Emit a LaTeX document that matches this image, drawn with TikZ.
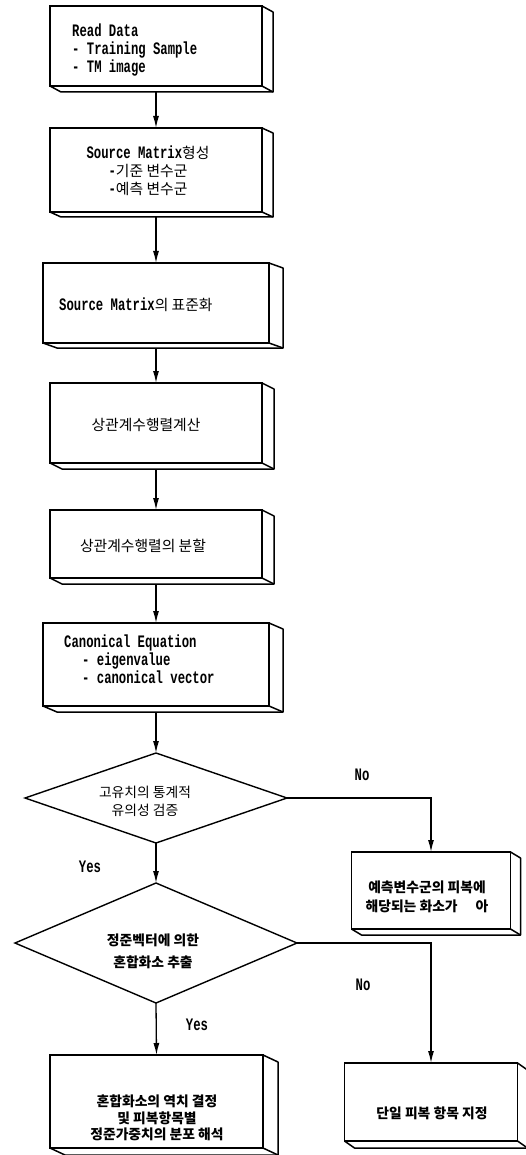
\documentclass[tikz,border=0pt]{standalone}
\usepackage{fontspec}
\setmainfont{Liberation Mono}[FakeStretch=0.7]
\newfontfamily\kr{Noto Sans CJK KR}
\usetikzlibrary{shapes.geometric,arrows.meta,calc}
\newcommand\K[1]{{\kr\mdseries\fontsize{14.8}{18}\selectfont #1}}
\newcommand\slabside[3]{%
  \draw[slabline] (#1.north east) -- ++(#2,#3) -- ($(#1.south east)+(#2,#3)$) -- ($(#1.south west)+(#2,#3)$) -- (#1.south west);
  \draw[slabline] (#1.south east) -- ++(#2,#3);
}
\tikzset{
  slab/.style={draw, line width=1.6pt, inner sep=0pt, outer sep=0pt},
  slabline/.style={line width=1.5pt, line join=round},
  dia/.style={draw, diamond, line width=1.4pt, inner sep=0pt, outer sep=0pt},
  conn/.style={line width=1.3pt, -{Latex[length=12pt,width=6pt]}},
  mono/.style={inner sep=0pt, font=\bfseries\fontsize{17.5}{18}\selectfont},
  kor/.style={inner sep=0pt, align=center, font=\kr\fontsize{14.8}{18}\selectfont},
  korb/.style 2 args={inner sep=0pt, align=center, font=\kr\bfseries\fontsize{#1}{#2}\selectfont},
  lbl/.style={inner sep=0pt, font=\bfseries\fontsize{17.5}{18}\selectfont},
}
\begin{document}
\begin{tikzpicture}[x=1pt,y=-1pt]
\useasboundingbox (0,0) rectangle (526,1155);

% boxes
\node[slab, minimum width=212pt, minimum height=80pt] (b1) at (156,46) {};
\node[slab, minimum width=212pt, minimum height=84pt] (b2) at (156,170) {};
\node[slab, minimum width=226pt, minimum height=80pt] (b3) at (156,303) {};
\node[slab, minimum width=212pt, minimum height=80pt] (b4) at (156,423) {};
\node[slab, minimum width=212pt, minimum height=68pt] (b5) at (156,544) {};
\node[slab, minimum width=226pt, minimum height=83pt] (b6) at (156,664.5) {};
\node[dia, minimum width=262pt, minimum height=90pt] (d1) at (156,798) {};
\node[slab, minimum width=159pt, minimum height=77pt] (b7) at (431,890.5) {};
\node[dia, minimum width=282pt, minimum height=120pt] (d2) at (156,943) {};
\node[slab, minimum width=213pt, minimum height=93pt] (b8) at (156.5,1101.5) {};
\node[slab, minimum width=173pt, minimum height=78pt] (b9) at (431,1102) {};

\slabside{b1}{11}{6}
\slabside{b2}{11}{5}
\slabside{b3}{14}{5}
\slabside{b4}{12}{6}
\slabside{b5}{12}{6}
\slabside{b6}{14}{6}
\slabside{b7}{10}{6}
\slabside{b8}{15}{7}
\slabside{b9}{10}{7}

% texts
\node[mono, anchor=west, align=left] (t1) at (72,50) {Read Data\\- Training Sample\\- TM image};
\node[mono, align=center] (t2) at (148,171) {Source Matrix\K{형성}\\-\K{기준 변수군}\\-\K{예측 변수군}};
\node[mono, anchor=west] (t3) at (59,305) {Source Matrix\K{의 표준화}};
\node[kor] (t4) at (146,425) {상관계수행렬계산};
\node[kor] (t5) at (143,546) {상관계수행렬의 분할};
\node[mono, anchor=west, align=left] (t6) at (64,659) {Canonical Equation\\\hspace*{18pt}- eigenvalue\\\hspace*{18pt}- canonical vector};
\node[kor, font=\kr\fontsize{13.8}{18}\selectfont] (td1) at (145,801) {고유치의 통계적\\유의성 검증};
\node[korb={13.8}{22}] (td2) at (153,951) {정준벡터에 의한\\혼합화소 추출};
\node[korb={13.8}{19}] (t7) at (427,897) {예측변수군의 피복에\\해당되는 화소가\hspace*{18pt}아};
\node[korb={13.8}{16.5}] (t8) at (157,1118) {혼합화소의 역치 결정\\및 피복항목별\\정준가중치의 분포 해석};
\node[korb={13.8}{18}] (t9) at (432,1113) {단일 피복 항목 지정};

% labels
\node[lbl] (no1) at (362,775) {No};
\node[lbl] (yes1) at (90,867) {Yes};
\node[lbl] (no2) at (363,985) {No};
\node[lbl] (yes2) at (197,1025) {Yes};

% connectors
\draw[conn] ([yshift=-6pt]b1.south) -- (b2.north);
\draw[conn] ([yshift=-5pt]b2.south) -- (b3.north);
\draw[conn] ([yshift=-5pt]b3.south) -- (b4.north);
\draw[conn] ([yshift=-6pt]b4.south) -- (b5.north);
\draw[conn] ([yshift=-6pt]b5.south) -- (b6.north);
\draw[conn] ([yshift=-6pt]b6.south) -- (d1.north);
\draw[conn] (d1.east) -| (b7.north);
\draw[conn] (d1.south) -- (d2.north);
\draw[conn] (d2.east) -| (b9.north);
\draw[conn] (d2.south) -- (b8.north);
\end{tikzpicture}
\end{document}
